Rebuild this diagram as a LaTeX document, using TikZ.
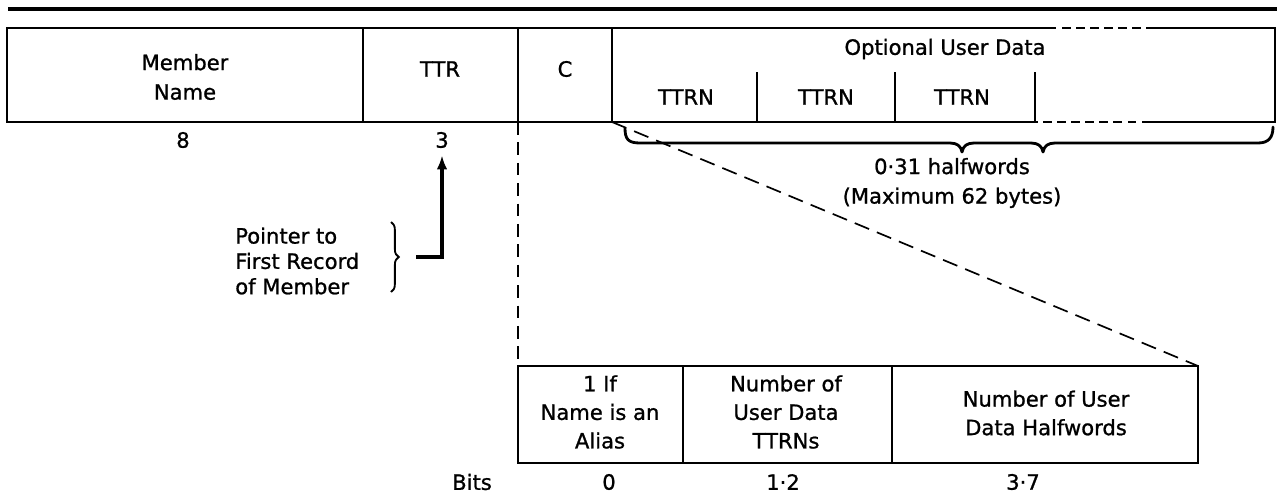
\documentclass[tikz,border=0pt]{standalone}
\usepackage{fontspec}
\setmainfont{DejaVu Sans}[BoldFont={DejaVu Sans}, BoldFeatures={FakeBold=1.0}]
\usetikzlibrary{decorations.pathreplacing,arrows.meta}
\begin{document}
\begin{tikzpicture}[x=0.025cm,y=-0.025cm,
  txt/.style={font=\fontsize{15}{21}\selectfont\bfseries, inner sep=0pt, align=center},
  btxt/.style={font=\fontsize{15}{20.3}\selectfont\bfseries, inner sep=0pt, align=center},
  ptxt/.style={font=\fontsize{15}{18}\selectfont\bfseries, inner sep=0pt, align=left},
  boxline/.style={line width=1.2pt},
  dshline/.style={line width=1.2pt, dash pattern=on 9pt off 5.5pt},
  shortdsh/.style={line width=1.2pt, dash pattern=on 6pt off 4pt},
  rule/.style={line width=2.2pt},
  bracepath/.style={line width=2pt, line cap=round, line join=round}]
\useasboundingbox (0,0) rectangle (1280,495);
% top rule
\coordinate (rL) at (8,9);
\coordinate (rR) at (1277,9);
\draw[rule] (rL) -- (rR);
% main record box corners
\coordinate (mTL) at (7,28);   \coordinate (mBL) at (7,122);
\coordinate (tTL) at (363,28); \coordinate (tBL) at (363,122);
\coordinate (cTL) at (518,28); \coordinate (cBL) at (518,122);
\coordinate (oTL) at (612,28); \coordinate (oBL) at (612,122);
\coordinate (oTR) at (1275,28); \coordinate (oBR) at (1275,122);
\draw[boxline] (oTL) -- (mTL) -- (mBL) -- (oBL);
\draw[boxline] (tTL) -- (tBL);
\draw[boxline] (cTL) -- (cBL);
\draw[boxline] (oTL) -- (oBL);
% optional user data part
\draw[boxline] (oTL) -- (1048,28);
\draw[shortdsh] (1048,28) -- (1150,28);
\draw[boxline] (1150,28) -- (oTR) -- (oBR) -- (1150,122);
\draw[shortdsh] (1150,122) -- (1035,122);
\draw[boxline] (1035,122) -- (oBL);
\draw[boxline] (757,72) -- (757,122);
\draw[boxline] (895,72) -- (895,122);
\draw[boxline] (1035,72) -- (1035,122);
% texts of main box
\node[txt] (mname) at (185,77) {Member\\Name};
\node[txt] (ttr) at (440,69) {TTR};
\node[txt] (c) at (565,69) {C};
\node[txt] (oud) at (945,49) {Optional User Data};
\node[txt] (ttrn1) at (686,97) {TTRN};
\node[txt] (ttrn2) at (826,97) {TTRN};
\node[txt] (ttrn3) at (962,97) {TTRN};
\node[txt] (eight) at (183,140) {8};
\node[txt] (three) at (442,140) {3};
% brace under optional data
\draw[bracepath] (625,128) .. controls (625,139) and (628,143) .. (640,143)
  -- (950,143) .. controls (957,143) and (961,146) .. (962,152)
  .. controls (963,146) and (967,143) .. (974,143)
  -- (1031,143) .. controls (1038,143) and (1042,146) .. (1043,152)
  .. controls (1044,146) and (1048,143) .. (1055,143)
  -- (1258,143) .. controls (1268,143) and (1273,138) .. (1273,127);
\node[txt] (hw) at (952,183) {0·31 halfwords\\(Maximum 62 bytes)};
% pointer
\node[ptxt, anchor=west] (ptr) at (235,261) {Pointer to\\First Record\\of Member};
\draw[line width=1.3pt, decorate, decoration={brace, amplitude=5.5pt}] (391,222) -- (391,292);
\coordinate (ptrEnd) at (416,257);
\draw[line width=2.6pt, -{Latex[length=10pt,width=7.5pt]}, shorten >=5pt] (ptrEnd) -| (three.south);
% bottom box
\coordinate (bTL) at (518,366); \coordinate (bTR) at (1198,366);
\coordinate (bBL) at (518,463); \coordinate (bBR) at (1198,463);
\draw[dshline] (cBL) -- (bTL);
\draw[dshline, dash pattern=on 11pt off 6pt] (oBL) -- (bTR);
\draw[boxline] (bTL) -- (bTR) -- (bBR) -- (bBL) -- cycle;
\draw[boxline] (683,366) -- (683,463);
\draw[boxline] (892,366) -- (892,463);
\node[btxt] (alias) at (600,412) {1 If\\Name is an\\Alias};
\node[btxt] (nttrn) at (786,412) {Number of\\User Data\\TTRNs};
\node[btxt] (nhw) at (1046,413) {Number of User\\Data Halfwords};
% bits row
\node[txt] (bits) at (472,482) {Bits};
\node[txt] (b0) at (609,482) {0};
\node[txt] (b12) at (783,482) {1·2};
\node[txt] (b37) at (1023,482) {3·7};
\end{tikzpicture}
\end{document}
